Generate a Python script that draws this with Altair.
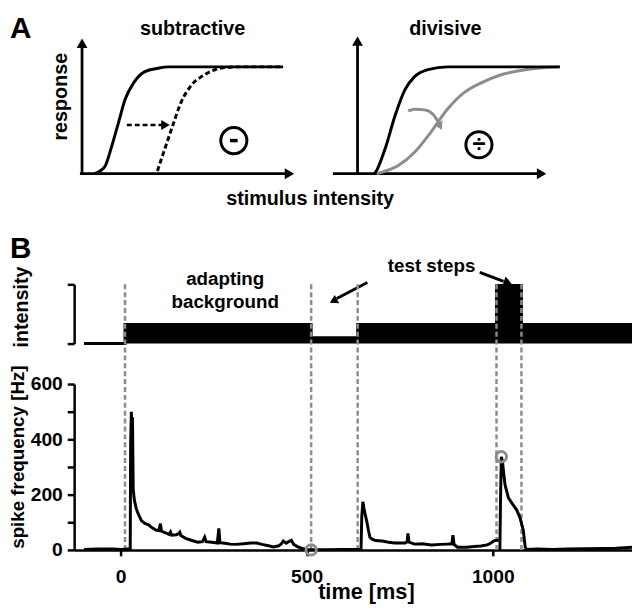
import altair as alt
import pandas as pd

FONT = "Liberation Sans"
GREY = "#8c8c8c"

# ---------------- data ----------------
# Panel A, subtractive (stimulus units 0-10, response 0-1)
sub_solid = [(0.60, 0.00), (0.85, 0.02), (1.10, 0.06), (1.41, 0.21), (1.72, 0.38), (2.03, 0.55),
             (2.42, 0.67), (2.96, 0.755), (3.58, 0.78), (4.05, 0.79), (6.00, 0.79), (9.47, 0.79)]
sub_dashed = [(3.55, 0.02), (3.89, 0.18), (4.28, 0.36), (4.67, 0.53), (5.13, 0.65), (5.75, 0.73),
              (6.53, 0.78), (7.30, 0.79), (9.47, 0.79)]
sub_shift_arrow = [(2.11, 0.36), (3.85, 0.36)]
sub_shift_head = [(3.93, 0.36)]
sub_symbol = [(7.15, 0.245)]
sub_minus = [(6.97, 7.33, 0.245)]
sub_axes = [(0, 0, "y"), (0, 0.955, "y"), (-0.1, 0, "x"), (9.7, 0, "x")]
sub_head_up = [(0, 0.965)]
sub_head_right = [(9.77, 0)]

# Panel A, divisive
div_black = [(0.80, 0.00), (0.92, 0.03), (1.30, 0.185), (1.77, 0.43), (2.23, 0.62), (2.70, 0.72),
             (3.32, 0.77), (4.25, 0.79), (6.00, 0.79), (9.53, 0.79)]
div_grey = [(0.90, 0.00), (1.92, 0.06), (2.70, 0.16), (3.47, 0.31), (4.25, 0.48), (5.02, 0.60),
            (5.80, 0.67), (6.73, 0.73), (7.97, 0.77), (9.53, 0.79)]
div_curl = [(2.39, 0.465), (2.70, 0.477), (3.16, 0.472), (3.55, 0.44), (3.80, 0.385)]
div_curl_head = [(3.86, 0.36)]
div_symbol = [(5.72, 0.214)]
div_axes = [(0, 0, "y"), (0, 0.97, "y"), (-1.16, 0, "x"), (8.6, 0, "x")]
div_head_up = [(0, 0.98)]
div_head_right = [(8.67, 0)]

# Panel B, stimulus intensity (time ms, relative level)
stim_t = [-98, 12, 512, 637, 1010, 1077, 1374]
stim_level = [0.0, 0.32, 0.10, 0.32, 0.98, 0.32, 0.32]
event_times = [12, 512, 637, 1010, 1077]
arrow_gap = [(663, 1.03), (581, 0.76)]
arrow_gap_head = [(575, 0.73, 242)]
arrow_test = [(965, 1.20), (1029, 1.05)]
arrow_test_head = [(1037, 1.04, 110)]

# Panel B, spike frequency (time ms, Hz)
spikes_background = [
    (-98, 2), (-60, 3), (-20, 3), (0, 2), (20, 3), (26, 3), (27, 380), (29, 500), (31, 300), (32, 480),
    (34, 220), (37, 180), (42, 150), (48, 128), (56, 106), (65, 96), (74, 92), (85, 80), (95, 72),
    (103, 70), (107, 95), (110, 68), (120, 62), (130, 56), (134, 65), (137, 53), (150, 55), (155, 58),
    (159, 64), (162, 52), (175, 42), (190, 35), (207, 28), (220, 30), (226, 46), (230, 30), (245, 28),
    (260, 25), (264, 78), (267, 26), (280, 24), (295, 21), (310, 20), (330, 22), (350, 25), (366, 25),
    (380, 20), (400, 14), (411, 11), (425, 15), (432, 22), (437, 32), (445, 24), (452, 30), (459, 35),
    (465, 20), (475, 12), (490, 4), (500, 2), (512, 1), (550, 1), (600, 2), (646, 2), (648, 120),
    (651, 174), (654, 150), (657, 130), (661, 106), (666, 70), (670, 45), (676, 39), (685, 34),
    (703, 32), (720, 28), (737, 25), (765, 25), (770, 30), (772, 60), (775, 28), (790, 21), (810, 22),
    (835, 18), (860, 20), (878, 21), (890, 22), (893, 53), (896, 20), (905, 10), (930, 10), (950, 12),
    (968, 14), (985, 18), (995, 25), (1003, 33), (1016, 36)]
spikes_test = [
    (1019, 0), (1021, 200), (1023, 337), (1026, 320), (1029, 280), (1033, 235), (1042, 188),
    (1050, 172), (1056, 160), (1064, 145), (1073, 117), (1082, 71), (1087, 11), (1090, 2),
    (1120, 3), (1160, 2), (1200, 3), (1250, 4), (1300, 5), (1330, 6), (1355, 8), (1374, 10)]
marked_points = [(512, 0), (1023, 337)]
freq_ticks = [0, 100, 200, 300, 400, 500, 600]
time_ticks = [0, 500, 1000]

# ---------------- helpers ----------------
W, H = 565, 545


def xy(pairs):
    return pd.DataFrame(pairs, columns=["x", "y"])


def label(s, x, y, size=20, angle=0, align="center", baseline="alphabetic"):
    return alt.Chart(pd.DataFrame({"s": [s]})).mark_text(
        text=s, font=FONT, fontSize=size, fontWeight="bold", angle=angle, align=align,
        baseline=baseline, color="black").encode(x=alt.value(x), y=alt.value(y))


charts = []

# ---------------- panel A (two schematic panels) ----------------
for (sx_range, solid_axes, up, right, extra) in [
    ([8, 223], sub_axes, sub_head_up, sub_head_right, "sub"),
    ([287, 502], div_axes, div_head_up, div_head_right, "div"),
]:
    X = alt.X("x:Q", scale=alt.Scale(domain=[0, 10], range=sx_range, nice=False, zero=False), axis=None)
    Y = alt.Y("y:Q", scale=alt.Scale(domain=[0, 1], range=[164, 27], nice=False, zero=False), axis=None)
    charts.append(alt.Chart(pd.DataFrame(solid_axes, columns=["x", "y", "seg"])).mark_line(
        color="black", strokeWidth=2.8).encode(x=X, y=Y, detail="seg:N"))
    charts.append(alt.Chart(xy(up)).mark_point(shape="triangle-up", filled=True, color="black",
                                               opacity=1, size=120).encode(x=X, y=Y))
    charts.append(alt.Chart(xy(right)).mark_point(shape="triangle-right", filled=True, color="black",
                                                  opacity=1, size=120).encode(x=X, y=Y))
    if extra == "sub":
        charts += [
            alt.Chart(xy(sub_solid)).mark_line(color="black", strokeWidth=3, interpolate="monotone").encode(x=X, y=Y),
            alt.Chart(xy(sub_dashed)).mark_line(color="black", strokeWidth=3, strokeDash=[5, 3], interpolate="monotone").encode(x=X, y=Y),
            alt.Chart(xy(sub_shift_arrow)).mark_line(color="black", strokeWidth=2.6, strokeDash=[5, 3]).encode(x=X, y=Y),
            alt.Chart(xy(sub_shift_head)).mark_point(shape="triangle-right", filled=True, color="black", opacity=1, size=100).encode(x=X, y=Y),
            alt.Chart(xy(sub_symbol)).mark_point(shape="circle", filled=False, color="black", opacity=1, strokeWidth=3, size=700).encode(x=X, y=Y),
            alt.Chart(pd.DataFrame(sub_minus, columns=["x", "x2", "y"])).mark_rule(color="black", strokeWidth=3.5).encode(x=X, x2="x2:Q", y=Y),
        ]
    else:
        charts += [
            alt.Chart(xy(div_grey)).mark_line(color=GREY, strokeWidth=3, interpolate="monotone").encode(x=X, y=Y),
            alt.Chart(xy(div_black)).mark_line(color="black", strokeWidth=3, interpolate="monotone").encode(x=X, y=Y),
            alt.Chart(xy(div_curl)).mark_line(color=GREY, strokeWidth=3, interpolate="monotone").encode(x=X, y=Y),
            alt.Chart(xy(div_curl_head)).mark_point(shape="triangle", filled=True, color=GREY, opacity=1, size=90, angle=155).encode(x=X, y=Y),
            alt.Chart(xy(div_symbol)).mark_point(shape="circle", filled=False, color="black", opacity=1, strokeWidth=3, size=700).encode(x=X, y=Y),
            alt.Chart(xy(div_symbol)).mark_text(text="÷", font=FONT, fontSize=24, fontWeight="bold", baseline="middle", color="black").encode(x=X, y=Y),
        ]

# ---------------- panel B ----------------
sxt = alt.Scale(domain=[-124.7, 1374], range=[0, W], nice=False, zero=False)
syi = alt.Scale(domain=[0, 1], range=[336, 276], nice=False, zero=False)
syd = alt.Scale(domain=[0, 1], range=[545, 273], nice=False, zero=False)
sys_ = alt.Scale(domain=[0, 600], range=[545, 377], nice=False, zero=False)
XT = alt.X("t:Q", scale=sxt, axis=None)
YI = alt.Y("level:Q", scale=syi, axis=None)

ax_common = dict(domainColor="black", tickColor="black", labelColor="black", domainWidth=2.5,
                 tickWidth=2.5, grid=False, title=None, labelFont=FONT, labelFontSize=19.5,
                 labelFontWeight="bold", format="d")

stim_df = pd.DataFrame({"t": stim_t, "level": stim_level})
charts += [
    alt.Chart(stim_df).mark_area(color="black", interpolate="step-after", opacity=1).encode(
        x=XT, y=alt.Y("level:Q", scale=syi,
                      axis=alt.Axis(orient="left", values=[0, 1], labels=False, tickSize=7,
                                    domainColor="black", tickColor="black", domainWidth=2.5,
                                    tickWidth=2.5, grid=False, title=None))),
    alt.Chart(stim_df).mark_line(color="black", interpolate="step-after", strokeWidth=3).encode(x=XT, y=YI),
    alt.Chart(pd.DataFrame(arrow_gap, columns=["t", "level"])).mark_line(color="black", strokeWidth=3).encode(x=XT, y=YI),
    alt.Chart(pd.DataFrame(arrow_test, columns=["t", "level"])).mark_line(color="black", strokeWidth=3).encode(x=XT, y=YI),
    alt.Chart(pd.DataFrame(arrow_gap_head, columns=["t", "level", "a"])).mark_point(
        shape="triangle", filled=True, color="black", opacity=1, size=90).encode(
        x=XT, y=YI, angle=alt.Angle("a:Q", scale=None)),
    alt.Chart(pd.DataFrame(arrow_test_head, columns=["t", "level", "a"])).mark_point(
        shape="triangle", filled=True, color="black", opacity=1, size=90).encode(
        x=XT, y=YI, angle=alt.Angle("a:Q", scale=None)),
]

events_df = pd.DataFrame({"t": event_times, "lo": [0] * len(event_times), "hi": [1] * len(event_times)})
charts.append(alt.Chart(events_df).mark_rule(color=GREY, strokeWidth=2.5, strokeDash=[5, 3]).encode(
    x=XT, y=alt.Y("lo:Q", scale=syd, axis=None), y2="hi:Q"))

seg_rows = [(t, f, "background") for t, f in spikes_background] + [(t, f, "test") for t, f in spikes_test]
spike_df = pd.DataFrame(seg_rows, columns=["t", "hz", "seg"])
charts += [
    alt.Chart(spike_df).mark_line(color="black", strokeWidth=3).encode(
        x=alt.X("t:Q", scale=sxt, axis=alt.Axis(orient="bottom", values=time_ticks, tickSize=6,
                                                 labelPadding=12, labelFlush=False, **ax_common)),
        y=alt.Y("hz:Q", scale=sys_, axis=alt.Axis(orient="left", values=freq_ticks, tickSize=7,
                                                   labelPadding=5,
                                                   labelExpr="datum.value % 200 === 0 ? datum.label : ''",
                                                   **ax_common)),
        detail="seg:N", order="t:Q"),
    alt.Chart(pd.DataFrame(marked_points, columns=["t", "hz"])).mark_point(
        shape="circle", filled=False, color=GREY, opacity=1, strokeWidth=3, size=110).encode(
        x=XT, y=alt.Y("hz:Q", scale=sys_, axis=None)),
]

charts += [
    label("A", -65, 27, size=30, align="left"),
    label("B", -65, 249, size=30, align="left"),
    label("subtractive", 120, 23),
    label("divisive", 376, 23),
    label("stimulus intensity", 239, 196),
    label("response", -7, 86, angle=270),
    label("intensity", -47, 299, angle=270),
    label("spike frequency [Hz]", -51, 451, size=19, angle=270),
    label("adapting", 153, 277, size=19),
    label("background", 153, 300, size=19),
    label("test steps", 362, 264, size=19),
    label("time [ms]", 296, 595, size=22),
]

chart = alt.layer(*charts).resolve_scale(
    x="independent", y="independent"
).properties(
    width=W, height=H,
    padding={"left": 67, "top": 0, "right": 0, "bottom": 57},
    autosize=alt.AutoSizeParams(type="none"),
    background="white",
).configure_view(stroke=None)

chart.save("out.html", embed_options={"renderer": "svg", "actions": False})
